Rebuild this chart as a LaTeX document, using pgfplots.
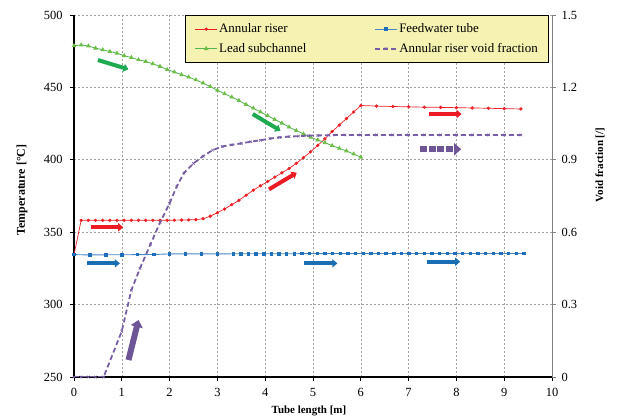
\documentclass[border=0pt]{standalone}
\usepackage{fontspec}
\setmainfont{Liberation Serif}
\usepackage{pgfplots}
\pgfplotsset{compat=1.18}
\usetikzlibrary{arrows.meta}
\definecolor{cred}{RGB}{236,32,39}
\definecolor{cblueline}{RGB}{74,134,198}
\definecolor{cbluemark}{RGB}{30,110,185}
\definecolor{cgreenline}{RGB}{80,180,80}
\definecolor{cgreenmark}{RGB}{110,190,70}
\definecolor{cpurple}{RGB}{120,95,165}
\definecolor{ared}{RGB}{237,28,36}
\definecolor{ablue}{RGB}{25,110,180}
\definecolor{agreen}{RGB}{30,170,80}
\definecolor{apurple}{RGB}{110,85,150}
\definecolor{legfill}{RGB}{246,242,178}
\pgfplotsset{
  redplot/.style={color=cred, line width=0.7bp, mark=*, mark size=1.3bp, mark options={solid, fill=cred}},
  blueplot/.style={color=cblueline, line width=0.9bp, mark=square*, mark size=1.2bp, mark options={solid, draw=cbluemark, fill=cbluemark}},
  greenplot/.style={color=cgreenline, line width=0.8bp, mark=triangle*, mark size=1.9bp, mark options={solid, draw=cgreenmark, fill=cgreenmark}},
  purpleplot/.style={color=cpurple, line width=1.8bp, dash pattern=on 5bp off 3bp, mark=x, mark size=1.8bp, mark options={solid, line width=0.6bp}},
  legend image code/.code={\draw[mark repeat=2,mark phase=2,#1] plot coordinates {(0bp,0bp) (11bp,0bp) (22bp,0bp)};},
}
\begin{document}
\begin{tikzpicture}
\begin{axis}[
  scale only axis, width=478bp, height=362bp,
  xmin=0, xmax=10, ymin=250, ymax=500,
  xtick={0,1,...,10}, ytick={250,300,...,500},
  axis x line*=bottom, axis y line*=left,
  x axis line style={-, line width=2bp},
  y axis line style={-, line width=2bp},
  tick align=outside, major tick length=4bp,
  tick style={black, line width=0.8bp},
  xmajorgrids, ymajorgrids,
  grid style={dash pattern=on 2bp off 2bp, gray!75, line width=0.6bp},
  tick label style={font=\fontsize{12.5}{14}\selectfont},
  xticklabel style={yshift=-4bp},
  yticklabel style={xshift=-4bp},
  /pgf/number format/assume math mode=true,
  xlabel={Tube length [m]}, ylabel={Temperature [°C]},
  xlabel style={font=\fontsize{11}{13}\selectfont\bfseries, at={([yshift=-34bp]rel axis cs:0.4916,0)}, anchor=center},
  ylabel style={font=\fontsize{12}{14}\selectfont\bfseries, at={([xshift=-52bp]rel axis cs:0,0.5166)}, anchor=center},
]
\addplot[redplot] coordinates {(0,334.5)
(0.15,358.2)(0.3,358.2)(0.45,358.2)(0.6,358.2)(0.75,358.2)(0.9,358.2)(1.05,358.2)(1.2,358.2)(1.35,358.2)(1.5,358.2)(1.65,358.2)(1.8,358.2)(1.95,358.2)(2.1,358.3)(2.25,358.4)(2.4,358.5)(2.55,358.7)(2.7,359.3)(2.85,361)(3.0,363.5)(3.15,366)(3.3,369)(3.45,372)(3.6,375.5)(3.75,379)(3.9,382)(4.05,385)(4.2,388)(4.35,391)(4.5,394)(4.65,397.5)(4.8,401.5)(4.95,405.5)(5.1,410)(5.25,414.5)(5.4,419.5)(5.55,424)(5.7,428.5)(5.85,433)(6.0,437.5)(6.33,437.1)(6.67,436.8)(7.0,436.6)(7.33,436.3)(7.67,436.2)(8.0,436)(8.33,435.8)(8.67,435.6)(9.0,435.3)(9.35,435.1)};
\addplot[blueplot] coordinates {(0,334.5)(0.33,334.3)(0.67,334.4)(1.0,334.4)(1.33,334.5)(1.67,334.6)(2.0,335)(2.33,335)(2.67,335)(3.0,335)(3.33,335.1)(3.49,335.1)(3.65,335.1)(3.81,335.1)(3.97,335.1)(4.13,335.1)(4.29,335.1)(4.45,335.1)(4.61,335.1)(4.77,335.2)(4.93,335.2)(5.09,335.2)(5.25,335.2)(5.41,335.2)(5.57,335.2)(5.73,335.2)(5.89,335.2)(6.05,335.2)(6.21,335.2)(6.37,335.3)(6.53,335.3)(6.69,335.3)(6.85,335.3)(7.01,335.3)(7.17,335.3)(7.33,335.3)(7.49,335.3)(7.65,335.3)(7.81,335.3)(7.97,335.3)(8.13,335.3)(8.29,335.3)(8.45,335.3)(8.61,335.3)(8.77,335.3)(8.93,335.3)(9.09,335.3)(9.25,335.3)(9.41,335.3)};
\addplot[greenplot] coordinates {(0,478.8)(0.15,479.3)(0.3,478.6)(0.45,477.1)(0.6,476)(0.75,474.8)(0.9,473.6)(1.05,471.9)(1.2,470.6)(1.35,469.1)(1.5,467.9)(1.65,466.3)(1.8,464.5)(1.95,462.3)(2.1,460.6)(2.25,458.8)(2.4,457.1)(2.55,455.2)(2.7,453)(2.85,450.6)(3.0,448)(3.15,445.6)(3.3,443.3)(3.45,440.9)(3.6,438.2)(3.75,435.7)(3.9,433)(4.05,430.5)(4.2,427.8)(4.35,425.3)(4.5,422.6)(4.65,420.2)(4.8,417.9)(4.95,415.6)(5.1,413.7)(5.25,411.8)(5.4,409.8)(5.55,407.9)(5.7,406.1)(5.85,404)(6.0,401.8)};
\draw[agreen, line width=4bp, -{Triangle[length=5bp,width=8bp]}] (axis cs:0.5,468.9) -- (axis cs:1.14,462.5);
\draw[agreen, line width=4bp, -{Triangle[length=5bp,width=8bp]}] (axis cs:3.74,431.6) -- (axis cs:4.32,420.1);
\draw[ared, line width=4bp, -{Triangle[length=5bp,width=8bp]}] (axis cs:0.35,353.4) -- (axis cs:1.03,353.4);
\draw[ared, line width=4bp, -{Triangle[length=5bp,width=8bp]}] (axis cs:4.08,379.6) -- (axis cs:4.66,391.1);
\draw[ared, line width=4bp, -{Triangle[length=5bp,width=8bp]}] (axis cs:7.43,431.6) -- (axis cs:8.11,431.6);
\draw[ablue, line width=4bp, -{Triangle[length=5bp,width=8bp]}] (axis cs:0.27,328.5) -- (axis cs:0.96,328.5);
\draw[ablue, line width=4bp, -{Triangle[length=5bp,width=8bp]}] (axis cs:4.81,328.5) -- (axis cs:5.51,328.5);
\draw[ablue, line width=4bp, -{Triangle[length=5bp,width=8bp]}] (axis cs:7.38,329.6) -- (axis cs:8.08,329.6);
\draw[apurple, line width=6bp, -{Triangle[length=7bp,width=12bp]}] (axis cs:1.14,261.7) -- (axis cs:1.35,289.4);
\draw[apurple, line width=6bp, dash pattern=on 7bp off 1.5bp, -{Triangle[length=7bp,width=12bp]}] (axis cs:7.24,407.3) -- (axis cs:8.1,407.3);
\end{axis}
\begin{axis}[
  scale only axis, width=478bp, height=362bp,
  xmin=0, xmax=10, ymin=0, ymax=1.5,
  axis x line=none, axis y line*=right,
  y axis line style={-, gray, line width=0.8bp},
  ytick={0,0.3,0.6,0.9,1.2,1.5},
  yticklabels={0,0.3,0.6,0.9,1.2,1.5},
  tick align=outside, major tick length=4bp,
  ytick style={gray, line width=0.8bp},
  tick label style={font=\fontsize{12.5}{14}\selectfont},
  yticklabel style={xshift=2bp},
  ylabel={Void fraction [/]},
  ylabel style={font=\fontsize{11}{13}\selectfont\bfseries, at={([xshift=48bp]rel axis cs:1,0.5856)}, anchor=center},
  legend columns=2,
  legend cell align=left,
  legend style={at={(rel axis cs:0.993,1)}, anchor=north east, fill=legfill, draw=black, line width=0.8bp,
    font=\fontsize{13}{15}\selectfont, inner xsep=9bp, inner ysep=7bp,
    nodes={inner sep=1.5bp},
    row sep=6bp,
    /tikz/every even column/.append style={column sep=66bp}},
]
\addlegendimage{redplot}
\addlegendentry{Annular riser}
\addlegendimage{blueplot}
\addlegendentry{Feedwater tube}
\addlegendimage{greenplot}
\addlegendentry{Lead subchannel}
\addplot[purpleplot] coordinates {(0,0)(0.15,0)(0.3,0)(0.45,0)(0.62,0)(1.0,0.19)(1.2,0.36)(1.38,0.45)(1.6,0.55)(1.8,0.64)(2.0,0.72)(2.15,0.79)(2.3,0.845)(2.5,0.885)(2.7,0.915)(2.9,0.94)(3.1,0.955)(3.3,0.962)(3.5,0.968)(3.7,0.975)(3.9,0.981)(4.1,0.988)(4.3,0.993)(4.5,0.996)(4.7,0.998)(4.9,1.0)(5.1,1.001)(5.33,1.002)(5.67,1.003)(6.0,1.003)(6.33,1.003)(6.67,1.003)(7.0,1.003)(7.33,1.003)(7.67,1.003)(8.0,1.003)(8.33,1.003)(8.67,1.003)(9.0,1.003)(9.35,1.003)};
\addlegendentry{Annular riser void fraction}
\end{axis}
\pgfresetboundingbox
\path (current axis.south west) ++(-74bp,-42bp) coordinate (bl);
\path (current axis.north east) ++(66bp,15bp) coordinate (tr);
\path[use as bounding box] (bl) rectangle (tr);
\end{tikzpicture}
\end{document}
